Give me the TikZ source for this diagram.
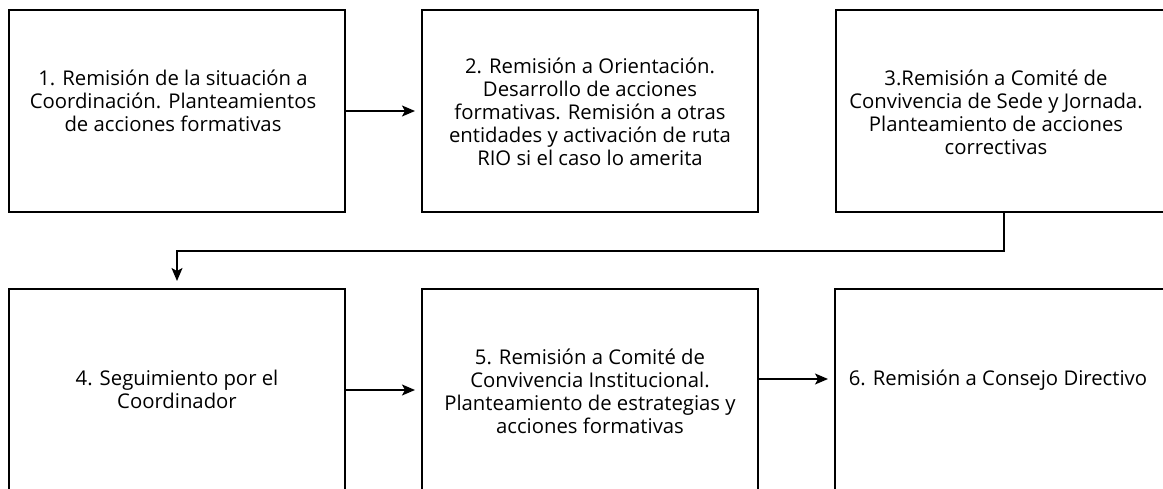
\documentclass[tikz,border=0pt]{standalone}
\usepackage{fontspec}
\setmainfont{Open Sans}
\usetikzlibrary{arrows.meta}
\begin{document}
\begin{tikzpicture}[x=1pt,y=-1pt,
  box/.style={draw=black,line width=1.6pt,rectangle,inner sep=0pt,outer sep=0pt},
  txt/.style={align=center,font=\fontsize{20.3}{23}\selectfont,inner sep=0pt},
  arr/.style={line width=1.4pt,-{Stealth[length=13pt,width=11pt,inset=3pt]}}]
\clip (0,0) rectangle (1163,489);
\useasboundingbox (0,0) rectangle (1163,489);
\node[box,minimum width=336pt,minimum height=202pt] (b1) at (177,111) {};
\node[box,minimum width=336pt,minimum height=202pt] (b2) at (590,111) {};
\node[box,minimum width=339pt,minimum height=202pt] (b3) at (1005.5,111) {};
\node[box,minimum width=336pt,minimum height=211pt] (b4) at (177,394.5) {};
\node[box,minimum width=336pt,minimum height=211pt] (b5) at (590,394.5) {};
\node[box,minimum width=340pt,minimum height=211pt] (b6) at (1005,394.5) {};
\node[txt] (t1) at (173,101) {1. Remisión de la situación a\\Coordinación. Planteamientos\\de acciones formativas};
\node[txt] (t2) at (590,112) {2. Remisión a Orientación.\\Desarrollo de acciones\\formativas. Remisión a otras\\entidades y activación de ruta\\RIO si el caso lo amerita};
\node[txt] (t3) at (996,112) {3.Remisión a Comité de\\Convivencia de Sede y Jornada.\\Planteamiento de acciones\\correctivas};
\node[txt] (t4) at (177,389.5) {4. Seguimiento por el\\Coordinador};
\node[txt] (t5) at (590,391) {5. Remisión a Comité de\\Convivencia Institucional.\\Planteamiento de estrategias y\\acciones formativas};
\node[txt] (t6) at (998,380) {6. Remisión a Consejo Directivo};
\draw[arr,shorten >=7pt] (b1.east) -- (b2.west);
\draw[arr,shorten >=8pt] ([xshift=-1.5pt]b3.south) -- ++(0,39) -| (b4.north);
\draw[arr,shorten >=7pt] ([yshift=4.5pt]b4.east) -- ([yshift=4.5pt]b5.west);
\draw[arr,shorten >=7pt] ([yshift=15.5pt]b5.east) -- ([yshift=15.5pt]b6.west);
\end{tikzpicture}
\end{document}
